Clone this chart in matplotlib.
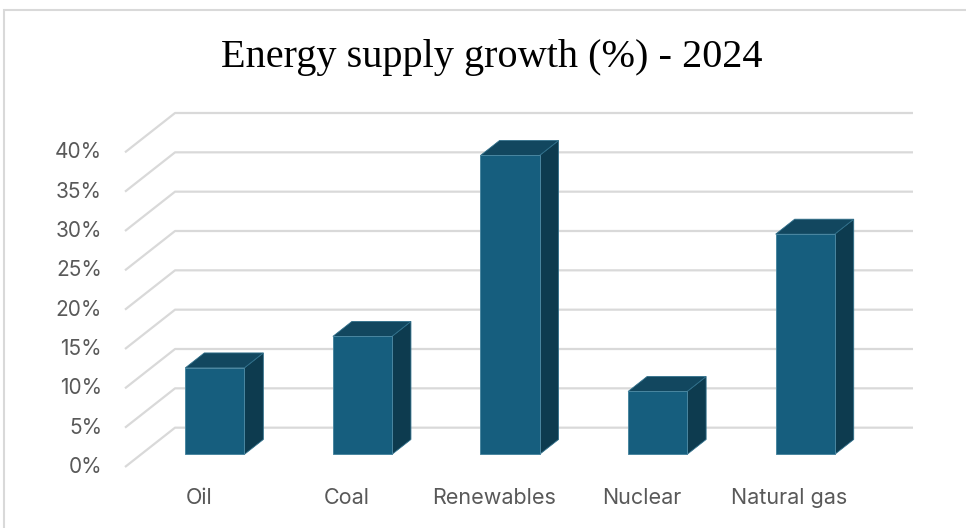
import matplotlib.pyplot as plt
from matplotlib.patches import Polygon, Rectangle

# growth of each energy source in 2024, in percent
sources = ['Oil', 'Coal', 'Renewables', 'Nuclear', 'Natural gas']
growth = [11, 15, 38, 8, 28]
ticks = [0, 5, 10, 15, 20, 25, 30, 35, 40]
tick_labels = ['0%', '5%', '10%', '15%', '20%', '25%', '30%', '35%', '40%']

# oblique 3D look: a step of depth d moves a point by d*DX along x and d*DY along y
DX = 0.339
DY = 5.0
bar_w = 0.40
d_front = 0.32
d_back = 0.70

front_col = '#165E7E'
top_col = '#12475F'
side_col = '#0D3B4F'
grid_col = '#D9D9D9'
text_col = '#595959'

W, H = 966, 528
fig = plt.figure(figsize=(W / 100, H / 100), dpi=100)
fig.patch.set_facecolor('white')

# chart area outline
fig.add_artist(Rectangle((4 / W, -0.05), 1.1, 1 - 10 / H + 0.05, transform=fig.transFigure,
                         fill=False, edgecolor=grid_col, linewidth=1.5))

ax = fig.add_axes([125 / W, (H - 467) / H, (913 - 125) / W, (467 - 113) / H])
ax.set_xlim(-0.5, len(sources) - 0.5 + DX)
ax.set_ylim(0, ticks[-1] + DY)
ax.axis('off')


def proj(x, v, d):
    return (x + d * DX, v + d * DY)


# side wall diagonals and back wall lines
x_left = -0.5
x_right = len(sources) - 0.5
for t in ticks:
    xs = [x_left, x_left + DX, x_right + DX]
    ys = [t, t + DY, t + DY]
    ax.plot(xs, ys, color=grid_col, linewidth=1.6, clip_on=False, solid_capstyle='butt', zorder=1)

for i, t in enumerate(ticks):
    ax.text(x_left - 0.155, t, tick_labels[i], ha='right', va='center',
            fontsize=15, color=text_col, family='Inter')

for i, (name, val) in enumerate(zip(sources, growth)):
    x0 = i - bar_w / 2
    x1 = i + bar_w / 2
    front = [proj(x0, 0, d_front), proj(x1, 0, d_front), proj(x1, val, d_front), proj(x0, val, d_front)]
    top = [proj(x0, val, d_front), proj(x1, val, d_front), proj(x1, val, d_back), proj(x0, val, d_back)]
    side = [proj(x1, 0, d_front), proj(x1, 0, d_back), proj(x1, val, d_back), proj(x1, val, d_front)]
    ax.add_patch(Polygon(side, closed=True, facecolor=side_col, edgecolor='#2F6F8A', linewidth=0.6, zorder=2))
    ax.add_patch(Polygon(top, closed=True, facecolor=top_col, edgecolor='#2F6F8A', linewidth=0.6, zorder=2))
    ax.add_patch(Polygon(front, closed=True, facecolor=front_col, edgecolor='#4A86A0', linewidth=0.7, zorder=3))
    ax.text(i, -3.95, name, ha='center', va='center', fontsize=15.5, color=text_col, family='Inter')

fig.text(492 / W, 1 - 57 / H, 'Energy supply growth (%) - 2024', ha='center', va='center',
         fontsize=29, color='black', family='Liberation Serif')

fig.savefig('out.png', dpi=100)
